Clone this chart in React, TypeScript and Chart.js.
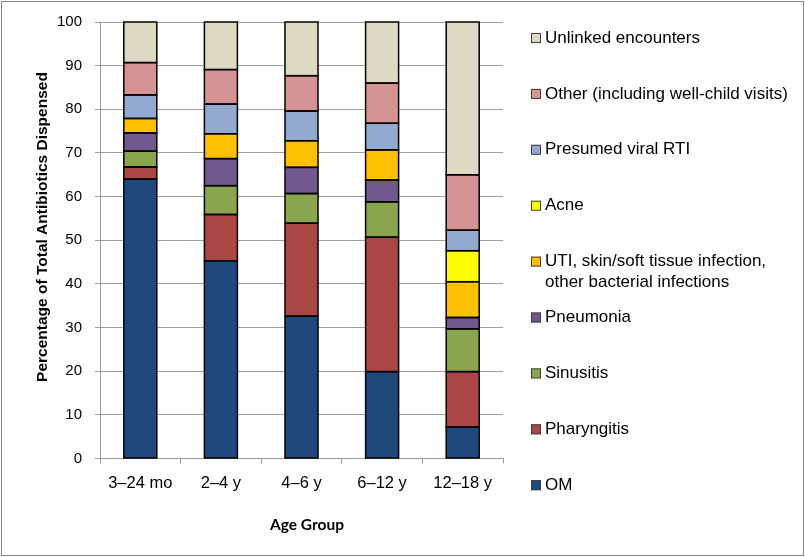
import React, { useEffect, useRef } from "react";
import { Chart, registerables } from "chart.js";

Chart.register(...registerables);

const categories = ["3–24 mo", "2–4 y", "4–6 y", "6–12 y", "12–18 y"];
const seriesNames = [
  "OM",
  "Pharyngitis",
  "Sinusitis",
  "Pneumonia",
  "UTI, skin/soft tissue infection,\nother bacterial infections",
  "Acne",
  "Presumed viral RTI",
  "Other (including well-child visits)",
  "Unlinked encounters",
];
const seriesColors = [
  "#1F497D",
  "#AA4643",
  "#89A54E",
  "#71588F",
  "#FFC000",
  "#FFFF00",
  "#93A9CF",
  "#D59493",
  "#DDD9C3",
];
const omValues = [64.0, 45.3, 32.6, 19.9, 7.2];
const pharyngitisValues = [2.8, 10.6, 21.3, 30.8, 12.7];
const sinusitisValues = [3.6, 6.6, 6.8, 8.1, 9.8];
const pneumoniaValues = [4.2, 6.2, 6.0, 5.0, 2.6];
const utiValues = [3.3, 5.7, 6.1, 6.9, 8.2];
const acneValues = [0, 0, 0, 0, 7.1];
const viralValues = [5.4, 6.8, 6.8, 6.1, 4.7];
const otherValues = [7.4, 7.9, 8.1, 9.2, 12.7];
const unlinkedValues = [9.3, 10.9, 12.3, 14.0, 35.0];
const allSeries = [
  omValues,
  pharyngitisValues,
  sinusitisValues,
  pneumoniaValues,
  utiValues,
  acneValues,
  viralValues,
  otherValues,
  unlinkedValues,
];

const yTitle = "Percentage of Total Antibiotics Dispensed";
const xTitle = "Age Group";

const W = 805;
const H = 557;
const SANS = "'Liberation Sans', Arial, sans-serif";

const framePlugin = {
  id: "frame",
  beforeDraw(chart: any) {
    const ctx = chart.ctx;
    ctx.save();
    ctx.fillStyle = "#ffffff";
    ctx.fillRect(0, 0, chart.width, chart.height);
    ctx.restore();
  },
  afterDatasetsDraw(chart: any) {
    // outline every bar segment (centred stroke, like the original)
    const ctx = chart.ctx;
    ctx.save();
    ctx.strokeStyle = "#000000";
    ctx.lineWidth = 1.5;
    chart.data.datasets.forEach((d: any, i: number) => {
      const meta = chart.getDatasetMeta(i);
      meta.data.forEach((el: any, j: number) => {
        const v = d.data[j];
        if (!v) return;
        const p = el.getProps(["x", "y", "base", "width"], true);
        const top = Math.min(p.y, p.base);
        const h = Math.abs(p.base - p.y);
        ctx.strokeRect(p.x - p.width / 2, top, p.width, h);
      });
    });
    ctx.restore();
  },
  afterDraw(chart: any) {
    const ctx = chart.ctx;
    ctx.save();
    ctx.strokeStyle = "#888888";
    ctx.lineWidth = 1;
    ctx.strokeRect(1.5, 1.5, chart.width - 3, chart.height - 3);

    // axis titles
    ctx.fillStyle = "#000000";
    ctx.textAlign = "center";
    ctx.textBaseline = "middle";
    ctx.save();
    ctx.translate(42.5, 227);
    ctx.rotate(-Math.PI / 2);
    ctx.font = `bold 15.5px ${SANS}`;
    ctx.fillText(yTitle, 0, 0);
    ctx.restore();
    ctx.font = "bold 15.5px Lato, 'Open Sans', sans-serif";
    ctx.fillText(xTitle, 307, 525);

    // custom legend (reverse order)
    const ds = chart.data.datasets;
    const startY = 38;
    const step = 55.9;
    ctx.font = `17px ${SANS}`;
    ctx.textBaseline = "middle";
    ctx.textAlign = "left";
    for (let k = 0; k < ds.length; k++) {
      const d = ds[ds.length - 1 - k];
      const y = startY + k * step;
      ctx.fillStyle = d.backgroundColor;
      ctx.fillRect(531, y - 5, 10, 10);
      ctx.strokeStyle = "#404040";
      ctx.lineWidth = 1;
      ctx.strokeRect(531.5, y - 4.5, 9, 9);
      ctx.fillStyle = "#000000";
      const lines = String(d.label).split("\n");
      lines.forEach((ln: string, i: number) => {
        ctx.fillText(ln, 545, y + i * 20.5);
      });
    }
    ctx.restore();
  },
};

export default function App() {
  const ref = useRef<HTMLCanvasElement>(null);
  useEffect(() => {
    if (!ref.current) return;
    const chart = new Chart(ref.current, {
      type: "bar",
      data: {
        labels: categories,
        datasets: allSeries.map((vals, i) => ({
          label: seriesNames[i],
          data: vals,
          backgroundColor: seriesColors[i],
          borderWidth: 0,
          inflateAmount: 0,
          barThickness: 33,
        })),
      },
      options: {
        responsive: false,
        animation: false,
        devicePixelRatio: 1,
        layout: { padding: { top: 22, right: 302, left: 0, bottom: 0 } },
        plugins: {
          legend: { display: false },
          tooltip: { enabled: false },
        },
        scales: {
          x: {
            stacked: true,
            afterFit(scale: any) {
              scale.height = 98.5;
            },
            grid: {
              display: true,
              drawOnChartArea: false,
              offset: true,
              tickLength: 5,
              color: "#999999",
            },
            border: { display: true, color: "#999999" },
            ticks: {
              color: "#000000",
              font: { family: SANS, size: 16.5 },
              padding: 10,
            },
          },
          y: {
            stacked: true,
            min: 0,
            max: 100,
            afterFit(scale: any) {
              scale.width = 100;
            },
            grid: {
              color: "#a0a0a0",
              tickLength: 5,
            },
            border: { display: true, color: "#999999" },
            ticks: {
              stepSize: 10,
              color: "#000000",
              font: { family: SANS, size: 15 },
              padding: 13,
            },
          },
        },
      },
      plugins: [framePlugin],
    });
    return () => chart.destroy();
  }, []);
  return (
    <div style={{ position: "absolute", left: 0, top: 0, width: W, height: H }}>
      <canvas ref={ref} width={W} height={H} style={{ display: "block", width: W, height: H }} />
    </div>
  );
}
